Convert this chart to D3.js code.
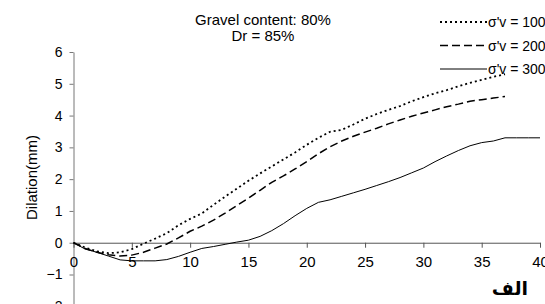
<!DOCTYPE html>
<html>
<head>
<meta charset="utf-8">
<script src="https://cdn.jsdelivr.net/npm/d3@7"></script>
<style>
  body { margin: 0; background: #fff; }
  text { font-family: "Liberation Sans", Arial, sans-serif; fill: #000; }
</style>
</head>
<body>
<script>
var width = 545, height = 304;

// Shear displacement (mm)
var xs100 = d3.range(0, 38);
var xs300 = d3.range(0, 41);

// Dilation (mm)
var dil100 = [0, -0.15, -0.27, -0.33, -0.3, -0.2, -0.03, 0.13, 0.3, 0.55,
  0.75, 0.92, 1.19, 1.45, 1.7, 1.95, 2.18, 2.4, 2.62, 2.84,
  3.08, 3.3, 3.49, 3.55, 3.72, 3.9, 4.05, 4.18, 4.3, 4.45,
  4.58, 4.7, 4.8, 4.92, 5.03, 5.12, 5.22, 5.3];
var dil200 = [0, -0.18, -0.3, -0.38, -0.42, -0.39, -0.3, -0.17, -0.04, 0.15,
  0.36, 0.52, 0.71, 0.93, 1.17, 1.4, 1.65, 1.9, 2.1, 2.32,
  2.55, 2.8, 3.02, 3.2, 3.35, 3.48, 3.6, 3.74, 3.86, 3.98,
  4.08, 4.18, 4.28, 4.36, 4.45, 4.5, 4.55, 4.6];
var dil300 = [0, -0.2, -0.3, -0.42, -0.54, -0.57, -0.57, -0.57, -0.53, -0.43,
  -0.3, -0.18, -0.12, -0.05, 0.02, 0.08, 0.2, 0.38, 0.6, 0.85,
  1.08, 1.27, 1.35, 1.46, 1.57, 1.68, 1.8, 1.92, 2.05, 2.2,
  2.35, 2.55, 2.73, 2.9, 3.05, 3.15, 3.2, 3.3, 3.3, 3.3, 3.3];

var seriesNames = ["σ'v = 100", "σ'v = 200", "σ'v = 300"];
var xTicks = [0, 5, 10, 15, 20, 25, 30, 35, 40];
var yTicks = [-2, -1, 0, 1, 2, 3, 4, 5, 6];

var series = [
  {name: seriesNames[0], x: xs100, y: dil100, dash: "2,3", w: 1.8},
  {name: seriesNames[1], x: xs100, y: dil200, dash: "8,4", w: 1.5},
  {name: seriesNames[2], x: xs300, y: dil300, dash: null, w: 1}
];

var svg = d3.select("body").append("svg")
  .attr("width", width)
  .attr("height", height);

var xScale = d3.scaleLinear().domain([0, 40]).range([73.5, 540]);
var yScale = d3.scaleLinear().domain([-2, 6]).range([306.3, 52]);

// Y axis
var yAxis = d3.axisLeft(yScale).tickValues(yTicks).tickSize(4).tickPadding(7).tickSizeOuter(0);
var gy = svg.append("g")
  .attr("transform", "translate(" + xScale(0) + ",0)")
  .call(yAxis);
gy.select(".domain").attr("stroke", "#777");
gy.selectAll(".tick line").attr("stroke", "#777");
gy.selectAll(".tick text").style("font-size", "14px").attr("fill", "#000");

// X axis along y = 0
var xAxis = d3.axisBottom(xScale).tickValues(xTicks).tickSize(5).tickPadding(9).tickSizeOuter(0);
var gx = svg.append("g")
  .attr("transform", "translate(0," + yScale(0) + ")")
  .call(xAxis);
gx.select(".domain").attr("stroke", "#555");
gx.selectAll(".tick line").attr("stroke", "#555");
gx.selectAll(".tick text").style("font-size", "15px").attr("fill", "#000");

// Curves
var line = d3.line()
  .x(function(d) { return xScale(d[0]); })
  .y(function(d) { return yScale(d[1]); });

series.forEach(function(s) {
  var pts = s.x.map(function(v, i) { return [v, s.y[i]]; });
  svg.append("path")
    .datum(pts)
    .attr("d", line)
    .attr("fill", "none")
    .attr("stroke", "#000")
    .attr("stroke-width", s.w)
    .attr("stroke-dasharray", s.dash);
});

// Title
svg.append("text")
  .attr("x", 263).attr("y", 25)
  .attr("text-anchor", "middle")
  .style("font-size", "15px")
  .text("Gravel content: 80%");
svg.append("text")
  .attr("x", 263).attr("y", 41)
  .attr("text-anchor", "middle")
  .style("font-size", "15px")
  .text("Dr = 85%");

// Y label
svg.append("text")
  .attr("transform", "translate(37,177.5) rotate(-90)")
  .attr("text-anchor", "middle")
  .style("font-size", "15px")
  .text("Dilation(mm)");

// Legend
var legendY = [22, 45.5, 69];
series.forEach(function(s, i) {
  svg.append("line")
    .attr("x1", 440).attr("x2", 487)
    .attr("y1", legendY[i]).attr("y2", legendY[i])
    .attr("stroke", "#000")
    .attr("stroke-width", s.w)
    .attr("stroke-dasharray", s.dash);
  svg.append("text")
    .attr("x", 488).attr("y", legendY[i] + 5)
    .style("font-size", "14px")
    .text(s.name);
});

// Panel label
svg.append("text")
  .attr("x", 510).attr("y", 295)
  .attr("text-anchor", "middle")
  .style("font-family", "'DejaVu Sans', sans-serif")
  .style("font-weight", "bold")
  .style("font-size", "19px")
  .text("الف");
</script>
</body>
</html>
